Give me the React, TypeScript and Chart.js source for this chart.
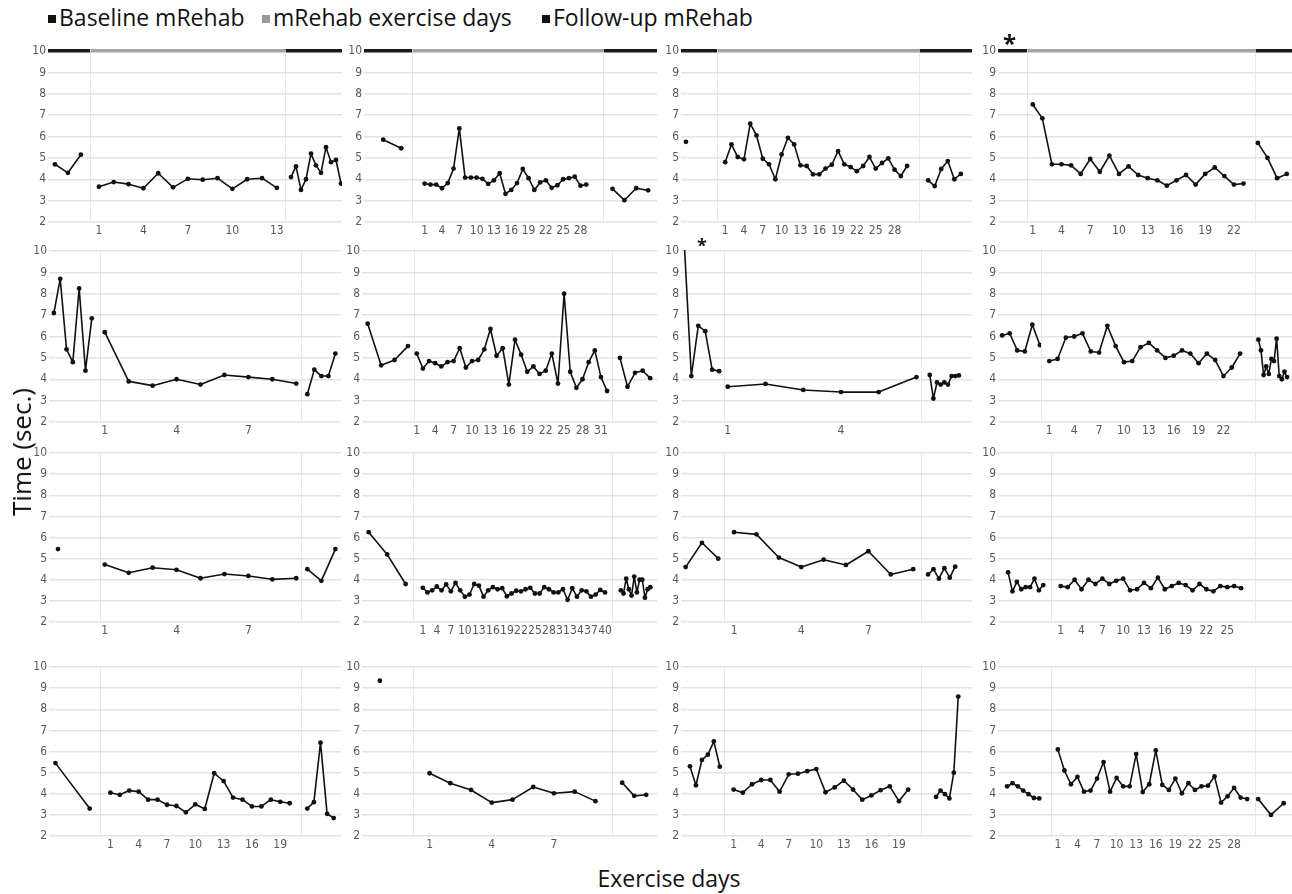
import React, { useEffect, useRef } from 'react';
import { Chart, registerables } from 'chart.js';

Chart.register(...registerables);

// ---------------- DATA (time in seconds) ----------------
// Row 1
const r1p1Base = [4.7, 4.3, 5.15];
const r1p1Ex = [3.65, 3.87, 3.77, 3.58, 4.28, 3.62, 4.02, 3.98, 4.05, 3.55, 4.0, 4.05, 3.6];
const r1p1Fu = [4.1, 4.6, 3.5, 4.0, 5.2, 4.65, 4.3, 5.5, 4.8, 4.9, 3.8];
const r1p2Base = [5.85, 5.45];
const r1p2Ex = [3.8, 3.75, 3.75, 3.58, 3.82, 4.5, 6.38, 4.08, 4.08, 4.08, 4.02, 3.78, 3.95, 4.28, 3.32, 3.5, 3.82, 4.48, 4.05, 3.5, 3.85, 3.95, 3.6, 3.72, 4.0, 4.05, 4.12, 3.7, 3.75];
const r1p2Fu = [3.55, 3.02, 3.58, 3.48];
const r1p3Base = [5.75];
const r1p3Ex = [4.8, 5.63, 5.04, 4.93, 6.6, 6.05, 4.96, 4.7, 4.0, 5.16, 5.94, 5.63, 4.65, 4.62, 4.23, 4.23, 4.5, 4.68, 5.32, 4.7, 4.57, 4.38, 4.62, 5.04, 4.5, 4.76, 4.98, 4.45, 4.15, 4.62];
const r1p3Fu = [3.95, 3.68, 4.48, 4.85, 4.0, 4.25];
const r1p4Base: number[] = [];
const r1p4Ex = [7.5, 6.85, 4.7, 4.7, 4.65, 4.25, 4.95, 4.35, 5.1, 4.25, 4.6, 4.2, 4.05, 3.95, 3.7, 3.95, 4.2, 3.75, 4.25, 4.55, 4.15, 3.75, 3.8];
const r1p4Fu = [5.7, 5.0, 4.05, 4.25];
// Row 2
const r2p1Base = [7.1, 8.7, 5.4, 4.8, 8.25, 4.4, 6.85];
const r2p1Ex = [6.2, 3.9, 3.7, 4.0, 3.75, 4.2, 4.1, 4.0, 3.8];
const r2p1Fu = [3.3, 4.45, 4.15, 4.15, 5.2];
const r2p2Base = [6.6, 4.65, 4.9, 5.55];
const r2p2Ex = [5.2, 4.5, 4.85, 4.75, 4.6, 4.8, 4.85, 5.45, 4.55, 4.85, 4.9, 5.4, 6.35, 5.1, 5.45, 3.75, 5.85, 5.15, 4.35, 4.6, 4.25, 4.4, 5.2, 3.8, 8.0, 4.35, 3.6, 4.0, 4.8, 5.35, 4.1, 3.45];
const r2p2Fu = [5.0, 3.65, 4.3, 4.4, 4.05];
const r2p3Base = [10.3, 4.15, 6.5, 6.25, 4.45, 4.38];
const r2p3Ex = [3.65, 3.78, 3.5, 3.4, 3.4, 4.1];
const r2p3Fu = [4.2, 3.1, 3.85, 3.75, 3.85, 3.75, 4.15, 4.15, 4.18];
const r2p4Base = [6.05, 6.15, 5.35, 5.3, 6.55, 5.6];
const r2p4Ex = [4.85, 4.95, 5.95, 6.0, 6.15, 5.3, 5.25, 6.5, 5.55, 4.8, 4.85, 5.5, 5.7, 5.35, 5.0, 5.1, 5.35, 5.2, 4.75, 5.2, 4.9, 4.15, 4.55, 5.2];
const r2p4Fu = [5.85, 5.35, 4.2, 4.6, 4.25, 4.95, 4.85, 5.9, 4.15, 4.0, 4.35, 4.1];
// Row 3
const r3p1Base = [5.45];
const r3p1Ex = [4.72, 4.33, 4.57, 4.47, 4.07, 4.27, 4.18, 4.02, 4.07];
const r3p1Fu = [4.5, 3.95, 5.45];
const r3p2Base = [6.25, 5.2, 3.8];
const r3p2Ex = [3.62, 3.4, 3.5, 3.68, 3.5, 3.78, 3.45, 3.85, 3.5, 3.2, 3.3, 3.8, 3.72, 3.2, 3.5, 3.65, 3.55, 3.6, 3.22, 3.35, 3.48, 3.45, 3.55, 3.62, 3.35, 3.35, 3.65, 3.55, 3.4, 3.4, 3.55, 3.05, 3.6, 3.2, 3.5, 3.45, 3.2, 3.3, 3.52, 3.4];
const r3p2Fu = [3.5, 3.35, 4.05, 3.55, 3.25, 4.15, 3.4, 4.0, 4.0, 3.15, 3.55, 3.65];
const r3p3Base = [4.6, 5.75, 5.0];
const r3p3Ex = [6.25, 6.15, 5.05, 4.6, 4.95, 4.7, 5.35, 4.25, 4.5];
const r3p3Fu = [4.25, 4.5, 4.05, 4.55, 4.1, 4.62];
const r3p4Base = [4.35, 3.45, 3.9, 3.55, 3.65, 3.65, 4.05, 3.5, 3.75];
const r3p4Ex = [3.7, 3.65, 4.0, 3.55, 4.0, 3.8, 4.05, 3.8, 3.95, 4.05, 3.5, 3.55, 3.85, 3.6, 4.1, 3.55, 3.7, 3.85, 3.75, 3.5, 3.8, 3.55, 3.45, 3.7, 3.65, 3.7, 3.6];
const r3p4Fu: number[] = [];
// Row 4
const r4p1Base = [5.45, 3.3];
const r4p1Ex = [4.05, 3.95, 4.15, 4.1, 3.72, 3.72, 3.48, 3.42, 3.12, 3.5, 3.28, 4.97, 4.6, 3.82, 3.72, 3.4, 3.4, 3.72, 3.62, 3.55];
const r4p1Fu = [3.3, 3.6, 6.42, 3.05, 2.85];
const r4p2Base = [9.35];
const r4p2Ex = [4.97, 4.5, 4.18, 3.58, 3.72, 4.32, 4.02, 4.1, 3.65];
const r4p2Fu = [4.52, 3.9, 3.95];
const r4p3Base = [5.3, 4.4, 5.6, 5.85, 6.48, 5.28];
const r4p3Ex = [4.2, 4.05, 4.45, 4.65, 4.65, 4.1, 4.92, 4.95, 5.07, 5.17, 4.07, 4.3, 4.62, 4.2, 3.72, 3.92, 4.17, 4.35, 3.65, 4.2];
const r4p3Fu = [3.85, 4.15, 3.98, 3.78, 5.0, 8.6];
const r4p4Base = [4.35, 4.5, 4.35, 4.15, 3.98, 3.8, 3.78];
const r4p4Ex = [6.1, 5.1, 4.45, 4.8, 4.1, 4.15, 4.72, 5.5, 4.1, 4.75, 4.35, 4.35, 5.88, 4.08, 4.45, 6.05, 4.42, 4.18, 4.72, 4.02, 4.5, 4.18, 4.35, 4.38, 4.82, 3.58, 3.88, 4.28, 3.82, 3.75];
const r4p4Fu = [3.75, 3.0, 3.55];

const Y_TICKS_MIN = 2;
const Y_TICKS_MAX = 10;
const LEGEND_LABELS = ['Baseline mRehab', 'mRehab exercise days', 'Follow-up mRehab'];
const Y_TITLE = 'Time (sec.)';
const X_TITLE = 'Exercise days';

const PANELS = [
  [[r1p1Base, r1p1Ex, r1p1Fu], [r1p2Base, r1p2Ex, r1p2Fu], [r1p3Base, r1p3Ex, r1p3Fu], [r1p4Base, r1p4Ex, r1p4Fu]],
  [[r2p1Base, r2p1Ex, r2p1Fu], [r2p2Base, r2p2Ex, r2p2Fu], [r2p3Base, r2p3Ex, r2p3Fu], [r2p4Base, r2p4Ex, r2p4Fu]],
  [[r3p1Base, r3p1Ex, r3p1Fu], [r3p2Base, r3p2Ex, r3p2Fu], [r3p3Base, r3p3Ex, r3p3Fu], [r3p4Base, r3p4Ex, r3p4Fu]],
  [[r4p1Base, r4p1Ex, r4p1Fu], [r4p2Base, r4p2Ex, r4p2Fu], [r4p3Base, r4p3Ex, r4p3Fu], [r4p4Base, r4p4Ex, r4p4Fu]],
];

// ---------------- LAYOUT ----------------
const ROW_Y = [[51, 222], [251, 422], [453, 622], [667, 836]];
const COL_X = [
  [[51, 90, 285, 342], [367, 412, 603, 657], [684, 717, 919, 972], [1001, 1027, 1255, 1292]],
  [[52, 100, 301, 341], [365, 414, 612, 657], [684, 724, 921, 972], [1001, 1041, 1255, 1292]],
  [[52, 100, 301, 341], [365, 413, 612, 657], [684, 724, 921, 972], [1001, 1051, 1255, 1292]],
  [[52, 100, 301, 341], [365, 413, 612, 657], [684, 724, 921, 972], [1001, 1051, 1255, 1292]],
];
// x-domain padding (in day units) left / right of the first / last point, per segment
const X_PADS = [
  [[[0.3, 0.7], [0.6, 0.55], [1.2, 0.2]], [[0.9, 0.6], [2.2, 2.9], [0.8, 0.75]], [[0.1, 1.6], [1.3, 1.9], [1.4, 1.7]], [[0.5, 0.5], [0.6, 1.2], [0.3, 0.55]]],
  [[[0.3, 1.3], [0.2, 0.2], [0.9, 0.8]], [[0.2, 0.45], [0.45, 0.8], [1.05, 0.9]], [[0.05, 0.7], [0.1, 0.12], [2.4, 3.6]], [[0.15, 0.15], [1.0, 1.8], [1.3, 1.9]]],
  [[[0.15, 1.05], [0.2, 0.2], [0.45, 0.4]], [[0.2, 0.4], [2.1, 1.5], [3.3, 2.5]], [[0.1, 0.35], [0.45, 0.35], [1.3, 3.1]], [[1.6, 1.75], [1.4, 2.0], [0.5, 0.5]]],
  [[[0.1, 0.3], [1.1, 1.2], [0.95, 1.1]], [[0.3, 0.67], [0.8, 0.8], [0.85, 0.9]], [[1.0, 0.7], [1.05, 1.4], [3.4, 3.1]], [[1.15, 2.2], [1.05, 1.2], [0.25, 0.65]]],
];

const PAD_T = 10;
const X_H = 24;
const Y_W = 26;
const GRID = '#e3e3e3';
const SEP = '#d2d2d2';
const BAR_COLORS = ['#1a1a1a', '#a3a3a3', '#1a1a1a'];
const TICK_FONT = { family: "'Liberation Sans Narrow', 'DejaVu Sans Condensed', 'Roboto', sans-serif", size: 12 };
const TICK_COLOR = '#595959';
const LINE_COLOR = '#111111';

type SegProps = {
  values: number[];
  seg: number; // 0 base, 1 exercise, 2 follow-up
  left: number;
  top: number;
  width: number;
  height: number;
  pad: number[];
  bar: string | null;
};

function Segment({ values, seg, left, top, width, height, pad, bar }: SegProps) {
  const ref = useRef<HTMLCanvasElement | null>(null);
  useEffect(() => {
    if (!ref.current) return;
    const isBase = seg === 0;
    const isEx = seg === 1;
    const n = Math.max(values.length, 1);
    const points = values.map((v, i) => ({ x: i + 1, y: v }));
    const exTicks = values.map((_, i) => i + 1).filter((d) => (d - 1) % 3 === 0);
    const chart = new Chart(ref.current, {
      type: 'line',
      data: {
        datasets: [
          {
            data: points,
            borderColor: LINE_COLOR,
            backgroundColor: LINE_COLOR,
            pointBackgroundColor: LINE_COLOR,
            pointBorderColor: LINE_COLOR,
            borderWidth: 1.6,
            borderJoinStyle: 'round',
            borderCapStyle: 'round',
            pointRadius: 2.4,
            pointBorderWidth: 0,
            tension: 0,
            clip: { left: 4, right: 4, top: 1, bottom: 4 },
          } as any,
        ],
      },
      options: {
        responsive: false,
        animation: false,
        devicePixelRatio: 1,
        events: [],
        layout: { autoPadding: false, padding: { top: PAD_T, left: 0, right: 0, bottom: 0 } },
        plugins: { legend: { display: false }, tooltip: { enabled: false } },
        scales: {
          x: {
            type: 'linear',
            min: 1 - pad[0],
            max: n + pad[1],
            grid: { display: false, drawTicks: false },
            border: { display: false },
            ticks: {
              display: isEx,
              autoSkip: false,
              maxRotation: 0,
              minRotation: 0,
              padding: 2,
              color: TICK_COLOR,
              font: TICK_FONT,
              callback: (v: any) => String(v),
            },
            afterBuildTicks: (s: any) => {
              if (isEx) s.ticks = exTicks.map((d) => ({ value: d }));
            },
            afterFit: (s: any) => {
              s.height = X_H;
              s.paddingLeft = 0;
              s.paddingRight = 0;
            },
          },
          y: {
            type: 'linear',
            min: Y_TICKS_MIN,
            max: Y_TICKS_MAX,
            ticks: { display: isBase, stepSize: 1, padding: 2, color: TICK_COLOR, font: TICK_FONT },
            grid: {
              color: (c: any) => (bar && c.tick && c.tick.value === Y_TICKS_MAX ? bar : GRID),
              lineWidth: (c: any) => (bar && c.tick && c.tick.value === Y_TICKS_MAX ? 3.5 : 1.5),
              drawTicks: isBase,
              tickLength: 3,
            },
            border: { display: !isBase, color: SEP, width: 1.5 },
            afterFit: (s: any) => {
              s.width = isBase ? Y_W : 0;
              s.paddingTop = 0;
              s.paddingBottom = 0;
            },
          },
        },
      } as any,
    });
    return () => chart.destroy();
  }, []);
  return (
    <canvas
      ref={ref}
      width={width}
      height={height}
      style={{ position: 'absolute', left, top, width, height }}
    />
  );
}

const textFont = "'Open Sans', 'Noto Sans', sans-serif";

function LegendItem({ x, color, label }: { x: number; color: string; label: string }) {
  return (
    <div style={{ position: 'absolute', left: x, top: 4, fontFamily: textFont, fontSize: 23, lineHeight: '26px', color: '#111', whiteSpace: 'nowrap' }}>
      <span style={{ display: 'inline-block', width: 8, height: 8, background: color, marginRight: 3, verticalAlign: 'middle', position: 'relative', top: -1 }} />
      {label}
    </div>
  );
}

export default function App() {
  const segs: React.ReactNode[] = [];
  PANELS.forEach((row, r) => {
    const [yTop, yBottom] = ROW_Y[r];
    row.forEach((panel, c) => {
      const [L, S1, S2, R] = COL_X[r][c];
      const bounds = [
        [L - Y_W, S1 - L + Y_W],
        [S1, S2 - S1],
        [S2, R - S2],
      ];
      panel.forEach((values, s) => {
        segs.push(
          <Segment
            key={`${r}-${c}-${s}`}
            values={values}
            seg={s}
            left={bounds[s][0]}
            width={bounds[s][1]}
            top={yTop - PAD_T}
            height={yBottom - yTop + PAD_T + X_H}
            pad={X_PADS[r][c][s]}
            bar={r === 0 ? BAR_COLORS[s] : null}
          />
        );
      });
    });
  });
  return (
    <div style={{ position: 'fixed', left: 0, top: 0, width: 1292, height: 894, background: '#fff', overflow: 'hidden' }}>
      <LegendItem x={48} color="#111" label={LEGEND_LABELS[0]} />
      <LegendItem x={262} color="#9a9a9a" label={LEGEND_LABELS[1]} />
      <LegendItem x={542} color="#111" label={LEGEND_LABELS[2]} />
      {segs}
      <div style={{ position: 'absolute', left: 1003, top: 26, fontFamily: textFont, fontSize: 24, fontWeight: 700, color: '#111' }}>*</div>
      <div style={{ position: 'absolute', left: 697, top: 233, fontFamily: textFont, fontSize: 18, fontWeight: 700, color: '#111' }}>*</div>
      <div
        style={{
          position: 'absolute',
          left: 21,
          top: 452,
          transform: 'translate(-50%, -50%) rotate(-90deg)',
          fontFamily: textFont,
          fontSize: 26,
          color: '#111',
          whiteSpace: 'nowrap',
        }}
      >
        {Y_TITLE}
      </div>
      <div
        style={{
          position: 'absolute',
          left: 669,
          top: 878,
          transform: 'translate(-50%, -50%)',
          fontFamily: textFont,
          fontSize: 23,
          color: '#111',
          whiteSpace: 'nowrap',
        }}
      >
        {X_TITLE}
      </div>
    </div>
  );
}
